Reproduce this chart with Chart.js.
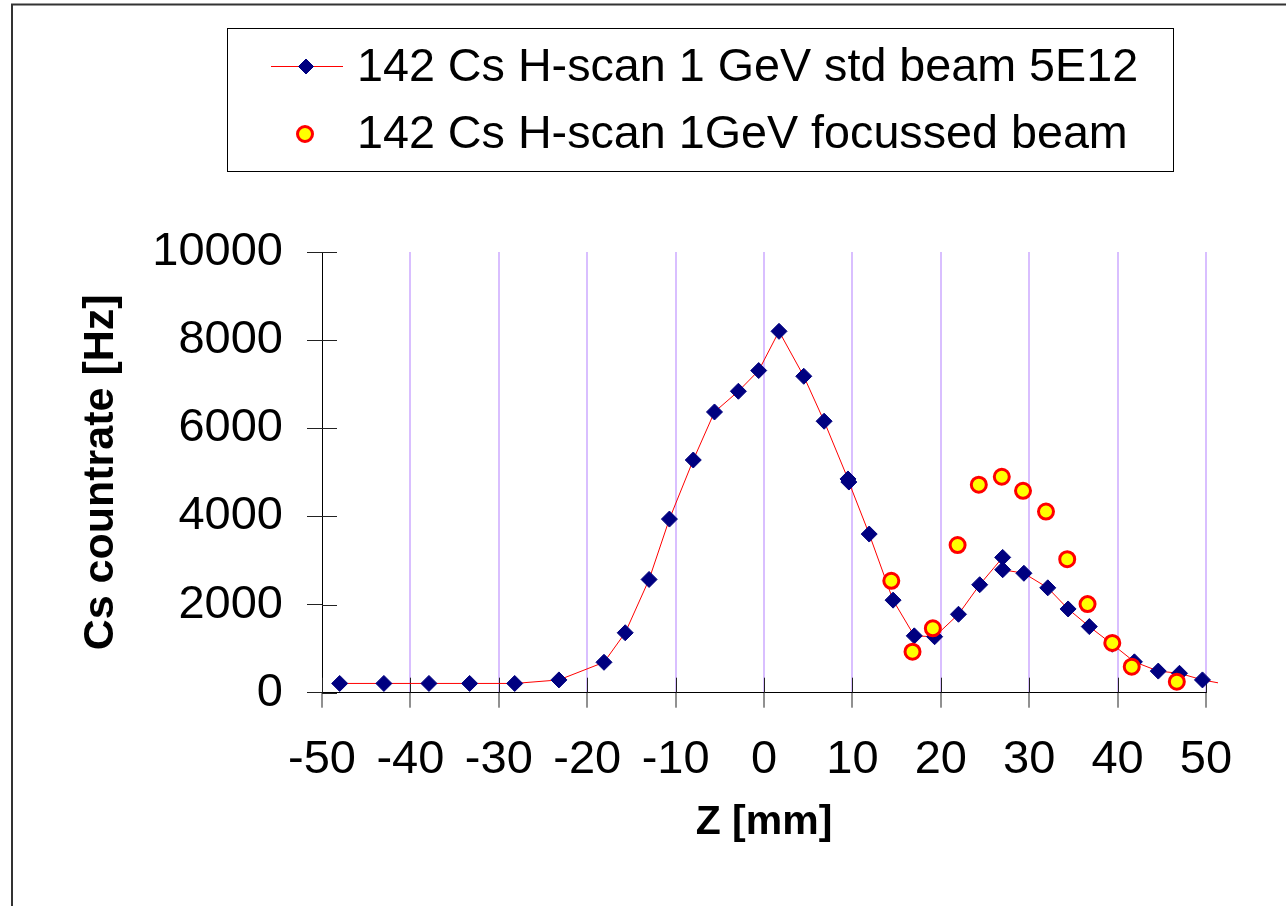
<!DOCTYPE html>
<html>
<head>
<meta charset="utf-8">
<script src="https://cdn.jsdelivr.net/npm/chart.js@4.4.1/dist/chart.umd.min.js"></script>
<style>
  html, body { margin: 0; padding: 0; background: #fff; }
  #wrap { width: 1286px; height: 906px; position: relative; }
</style>
</head>
<body>
<div id="wrap"><canvas id="c" width="1286" height="906"></canvas></div>
<script>
// ---- data ----
const seriesLabels = ['142 Cs H-scan 1 GeV std beam 5E12', '142 Cs H-scan 1GeV focussed beam'];

const stdZ = [-48.0, -43.0, -37.9, -33.3, -28.2, -23.2, -18.1, -15.7, -13.0, -10.7, -8.0, -5.6, -2.9, -0.6, 1.7, 4.5, 6.8, 9.5, 9.6, 11.9, 14.6, 17.0, 19.3, 22.0, 24.4, 27.0, 27.0, 29.4, 32.1, 34.4, 36.8, 39.4, 41.9, 44.6, 47.0, 49.6, 52.0];
const stdRate = [210, 210, 210, 210, 210, 290, 690, 1360, 2570, 3940, 5280, 6370, 6840, 7310, 8200, 7180, 6160, 4850, 4780, 3600, 2100, 1290, 1270, 1780, 2450, 3070, 2790, 2710, 2380, 1900, 1500, 1100, 700, 490, 440, 290, 200];

const focZ = [14.4, 16.8, 19.1, 21.9, 24.3, 26.9, 29.3, 31.9, 34.3, 36.6, 39.4, 41.6, 46.7];
const focRate = [2540, 930, 1460, 3350, 4720, 4900, 4580, 4110, 3030, 2010, 1130, 590, 250];

const xTicks = [-50, -40, -30, -20, -10, 0, 10, 20, 30, 40, 50];
const yTicks = [0, 2000, 4000, 6000, 8000, 10000];
const xTitle = 'Z [mm]';
const yTitle = 'Cs countrate [Hz]';

// ---- styling ----
const FONT = "'Liberation Sans', Arial, sans-serif";
const NAVY = '#000080';
const RED = '#ff0000';
const YELLOW = '#ffff00';
const GRID = '#d9bfff';

const xMin = xTicks[0], xMax = xTicks[xTicks.length - 1];

const stdData = stdZ.map((z, i) => ({ x: z, y: stdRate[i] }));
const focData = focZ.map((z, i) => ({ x: z, y: focRate[i] }));

function drawDiamond(ctx, x, y, r) {
  ctx.beginPath();
  ctx.moveTo(x - r, y); ctx.lineTo(x, y - r); ctx.lineTo(x + r, y); ctx.lineTo(x, y + r);
  ctx.closePath();
  ctx.fillStyle = NAVY; ctx.strokeStyle = NAVY; ctx.lineWidth = 1;
  ctx.fill(); ctx.stroke();
}
function drawCircle(ctx, x, y, r) {
  ctx.beginPath();
  ctx.arc(x, y, r, 0, Math.PI * 2);
  ctx.fillStyle = YELLOW; ctx.strokeStyle = RED; ctx.lineWidth = 3;
  ctx.fill(); ctx.stroke();
}

const decor = {
  id: 'decor',
  beforeDraw(chart) {
    const ctx = chart.ctx;
    ctx.save();
    ctx.fillStyle = '#fff';
    ctx.fillRect(0, 0, chart.width, chart.height);
    ctx.strokeStyle = '#333';
    ctx.lineWidth = 2;
    ctx.beginPath();
    ctx.moveTo(12, chart.height);
    ctx.lineTo(12, 4.5);
    ctx.lineTo(chart.width, 4.5);
    ctx.stroke();
    ctx.restore();
  },
  beforeDatasetsDraw(chart) {
    // inner halves of the crossing tick marks
    const ctx = chart.ctx;
    const xs = chart.scales.x, ys = chart.scales.y;
    const a = chart.chartArea;
    ctx.save();
    ctx.strokeStyle = '#222';
    ctx.lineWidth = 1;
    ctx.beginPath();
    ys.ticks.forEach(t => {
      const py = Math.round(ys.getPixelForValue(t.value)) + 0.5;
      ctx.moveTo(a.left, py); ctx.lineTo(a.left + 15, py);
    });
    xs.ticks.forEach(t => {
      const px = Math.round(xs.getPixelForValue(t.value)) + 0.5;
      ctx.moveTo(px, a.bottom); ctx.lineTo(px, a.bottom - 15);
    });
    ctx.stroke();
    ctx.restore();
  },
  afterDraw(chart) {
    // legend box
    const ctx = chart.ctx;
    ctx.save();
    ctx.strokeStyle = '#000';
    ctx.lineWidth = 1;
    ctx.strokeRect(227.5, 28.5, 946, 143);
    // entry 1: line + diamond
    ctx.strokeStyle = RED; ctx.lineWidth = 1;
    ctx.beginPath(); ctx.moveTo(271, 66.5); ctx.lineTo(343, 66.5); ctx.stroke();
    drawDiamond(ctx, 306, 66.5, 7.5);
    // entry 2: circle
    drawCircle(ctx, 305, 134, 7.5);
    ctx.fillStyle = '#000';
    ctx.font = '46.7px ' + FONT;
    ctx.textAlign = 'left';
    ctx.textBaseline = 'alphabetic';
    ctx.fillText(chart.data.datasets[0].label, 357, 81);
    ctx.fillText(chart.data.datasets[1].label, 357, 148);
    ctx.restore();
  }
};

new Chart(document.getElementById('c'), {
  type: 'scatter',
  data: {
    datasets: [
      {
        label: seriesLabels[0],
        data: stdData,
        showLine: true,
        borderColor: RED,
        borderWidth: 1,
        pointStyle: 'rectRot',
        pointRadius: ctx => (ctx.raw && ctx.raw.x > xMax ? 0 : 8),
        pointBackgroundColor: NAVY,
        pointBorderColor: NAVY,
        pointBorderWidth: 1,
        clip: { left: 0, top: 0, right: 12, bottom: 0 },
        order: 2
      },
      {
        label: seriesLabels[1],
        data: focData,
        showLine: false,
        pointStyle: 'circle',
        pointRadius: 7.5,
        pointBackgroundColor: YELLOW,
        pointBorderColor: RED,
        pointBorderWidth: 3,
        order: 1
      }
    ]
  },
  options: {
    responsive: false,
    animation: false,
    events: [],
    layout: { padding: { left: 0, top: 252, right: 80, bottom: 0 } },
    plugins: { legend: { display: false }, tooltip: { enabled: false } },
    scales: {
      x: {
        type: 'linear',
        min: xMin, max: xMax,
        afterBuildTicks: s => { s.ticks = xTicks.map(v => ({ value: v })); },
        afterFit: s => { s.height = 906 - 692.7; },
        border: { display: true, color: '#000', width: 1 },
        grid: {
          drawOnChartArea: true,
          color: ctx => (ctx.tick && ctx.tick.value === xMin ? 'rgba(0,0,0,0)' : GRID),
          lineWidth: 2,
          drawTicks: true,
          tickLength: 15,
          tickColor: '#222',
          tickWidth: 1
        },
        ticks: {
          color: '#000',
          font: { family: FONT, size: 47 },
          padding: 24,
          maxRotation: 0, minRotation: 0, autoSkip: false,
          callback: v => String(v)
        },
        title: {
          display: true, text: xTitle, color: '#000',
          font: { family: FONT, size: 41, weight: 'bold' },
          padding: { top: 0, bottom: 59 }
        }
      },
      y: {
        type: 'linear',
        min: yTicks[0], max: yTicks[yTicks.length - 1],
        afterBuildTicks: s => { s.ticks = yTicks.map(v => ({ value: v })); },
        afterFit: s => { s.width = 322; },
        border: { display: true, color: '#000', width: 1 },
        grid: {
          drawOnChartArea: false,
          drawTicks: true,
          tickLength: 15,
          tickColor: '#222',
          tickWidth: 1
        },
        ticks: {
          color: '#000',
          font: { family: FONT, size: 47 },
          padding: 24,
          callback: v => String(v)
        },
        title: {
          display: true, text: yTitle, color: '#000',
          font: { family: FONT, size: 43, weight: 'bold' },
          padding: { top: 75, bottom: 0 }
        }
      }
    }
  },
  plugins: [decor]
});
</script>
</body>
</html>
